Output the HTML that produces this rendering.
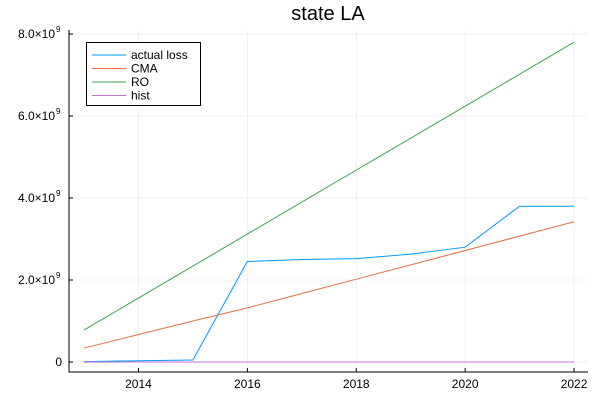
<!DOCTYPE html>
<html><head><meta charset="utf-8"><style>
body{margin:0;background:#fff;}
svg{font-family:"Liberation Sans","DejaVu Sans",sans-serif;}
</style></head><body>
<svg id="chart" width="600" height="400" viewBox="0 0 600 400">
<rect width="600" height="400" fill="#fff"/>
<text x="328" y="20" font-size="20" text-anchor="middle">state LA</text>
<g id="grid"></g>
<g id="axes"></g>
<g id="series"></g>
<g id="legend"></g>
</svg>
<script>
const years=[2013,2014,2015,2016,2017,2018,2019,2020,2021,2022];
const actualLoss=[0.01,0.03,0.05,2.45,2.5,2.52,2.63,2.8,3.8,3.8];
const cma=[0.34,0.67,1.0,1.32,1.67,2.02,2.37,2.72,3.07,3.42];
const ro=[0.78,1.56,2.34,3.12,3.9,4.68,5.46,6.24,7.02,7.8];
const hist=[0,0,0,0,0,0,0,0,0,0];
const xTicks=[2014,2016,2018,2020,2022];
const yTicks=[0,2,4,6,8];
const yTickLabels=["0","2.0×10","4.0×10","6.0×10","8.0×10"];
const NS="http://www.w3.org/2000/svg";
function X(v){return 84+(v-2013)*54.45;}
function Y(v){return 362-v*41.0;}
function mk(tag,attrs,parent){const e=document.createElementNS(NS,tag);for(const k in attrs)e.setAttribute(k,attrs[k]);parent.appendChild(e);return e;}
const grid=document.getElementById('grid'),axes=document.getElementById('axes'),ser=document.getElementById('series'),leg=document.getElementById('legend');
xTicks.forEach(t=>{
 const g=mk('line',{x1:X(t),x2:X(t),y1:30,y2:372,stroke:'#000','stroke-opacity':0.1,'stroke-width':0.5},grid);
 
 
 mk('line',{x1:X(t),x2:X(t),y1:372,y2:368,stroke:'#000','stroke-width':1},axes);
 const l=mk('text',{x:X(t),y:388,'font-size':12,'text-anchor':'middle'},axes);l.textContent=t;
 
 
});
yTicks.forEach((t,i)=>{
 const g=mk('line',{x1:69,x2:588,y1:Y(t),y2:Y(t),stroke:'#000','stroke-opacity':0.1,'stroke-width':0.5},grid);
 
 
 mk('line',{x1:69,x2:73,y1:Y(t),y2:Y(t),stroke:'#000','stroke-width':1},axes);
 const l=mk('text',{x:i==0?62:55,y:Y(t)+4,'font-size':12,'text-anchor':'end'},axes);l.textContent=yTickLabels[i];
 
 
 if(i>0){const s=mk('text',{x:56,y:Y(t)-2,'font-size':8,'text-anchor':'start'},axes);s.textContent='9';
 
 }
});
const ax=mk('path',{d:'M69 30 V372 H588',fill:'none',stroke:'#000','stroke-width':1},axes);


const series=[["actual loss",actualLoss,"#009af9"],["CMA",cma,"#e26f46"],["RO",ro,"#3ea44e"],["hist",hist,"#c271d2"]];
series.forEach(([name,vals,col])=>{
 const p=mk('polyline',{points:vals.map((v,i)=>X(years[i])+','+Y(v)).join(' '),fill:'none',stroke:col,'stroke-width':1},ser);
 
 
});
const box=mk('rect',{x:86.5,y:42.5,width:114,height:63,fill:'#fff',stroke:'#000','stroke-width':1},leg);


series.forEach(([name,vals,col],i)=>{
 const y=55+i*13.5;
 mk('line',{x1:92,x2:126,y1:y,y2:y,stroke:col,'stroke-width':1},leg);
 const t=mk('text',{x:131,y:y+4,'font-size':12},leg);t.textContent=name;
 
 
});
</script>
</body></html>
